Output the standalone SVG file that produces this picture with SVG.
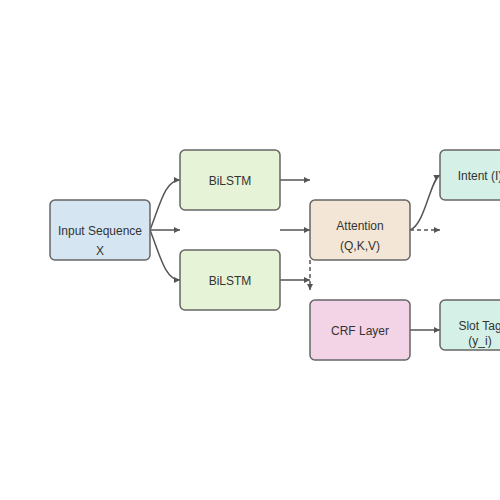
<svg xmlns="http://www.w3.org/2000/svg" width="500" height="500" viewBox="0 0 500 500">
<defs>
<style>
.box{stroke:#666;stroke-width:1.5}
.t{font-family:"Liberation Sans",Arial,sans-serif;font-size:12px;fill:#333;text-anchor:middle}
.c{fill:none;stroke:#555;stroke-width:1.5}
.d{stroke-dasharray:4,3}
</style>
<marker id="ah" viewBox="0 0 10 10" refX="10" refY="5" markerWidth="8" markerHeight="6" markerUnits="userSpaceOnUse" orient="auto">
<path d="M0,0 L10,5 L0,10 z" fill="#555"/>
</marker>
</defs>
<rect width="500" height="500" fill="#fff"/>
<g id="connectors">
<path class="c" d="M150,230 C160,205 165,180 180,180" marker-end="url(#ah)"/>
<path class="c" d="M150,230 L180,230" marker-end="url(#ah)"/>
<path class="c" d="M150,230 C160,255 165,280 180,280" marker-end="url(#ah)"/>
<path class="c" d="M280,180 L310,180" marker-end="url(#ah)"/>
<path class="c" d="M280,230 L310,230" marker-end="url(#ah)"/>
<path class="c" d="M280,280 L310,280" marker-end="url(#ah)"/>
<path class="c d" d="M310,260 L310,290" marker-end="url(#ah)"/>
<path class="c" d="M410,230 C425,225 430,180 440,175" marker-end="url(#ah)"/>
<path class="c d" d="M410,230 L440,230" marker-end="url(#ah)"/>
<path class="c" d="M410,330 L440,330" marker-end="url(#ah)"/>
</g>
<g id="input">
<rect class="box" x="50" y="200" width="100" height="60" rx="5" fill="#d5e6f2"/>
<text class="t" x="100" y="235">Input Sequence</text>
<text class="t" x="100" y="255">X</text>
</g>
<g id="bilstm1">
<rect class="box" x="180" y="150" width="100" height="60" rx="5" fill="#e6f3d6"/>
<text class="t" x="230" y="185">BiLSTM</text>
</g>
<g id="bilstm2">
<rect class="box" x="180" y="250" width="100" height="60" rx="5" fill="#e6f3d6"/>
<text class="t" x="230" y="285">BiLSTM</text>
</g>
<g id="attention">
<rect class="box" x="310" y="200" width="100" height="60" rx="5" fill="#f3e6d6"/>
<text class="t" x="360" y="230">Attention</text>
<text class="t" x="360" y="250">(Q,K,V)</text>
</g>
<g id="crf">
<rect class="box" x="310" y="300" width="100" height="60" rx="5" fill="#f2d4e6"/>
<text class="t" x="360" y="335">CRF Layer</text>
</g>
<g id="intent">
<rect class="box" x="440" y="150" width="80" height="50" rx="5" fill="#d5f0e6"/>
<text class="t" x="480" y="180">Intent (I)</text>
</g>
<g id="slot">
<rect class="box" x="440" y="300" width="80" height="50" rx="5" fill="#d5f0e6"/>
<text class="t" x="480" y="330">Slot Tag</text>
<text class="t" x="480" y="345">(y_i)</text>
</g>
</svg>
